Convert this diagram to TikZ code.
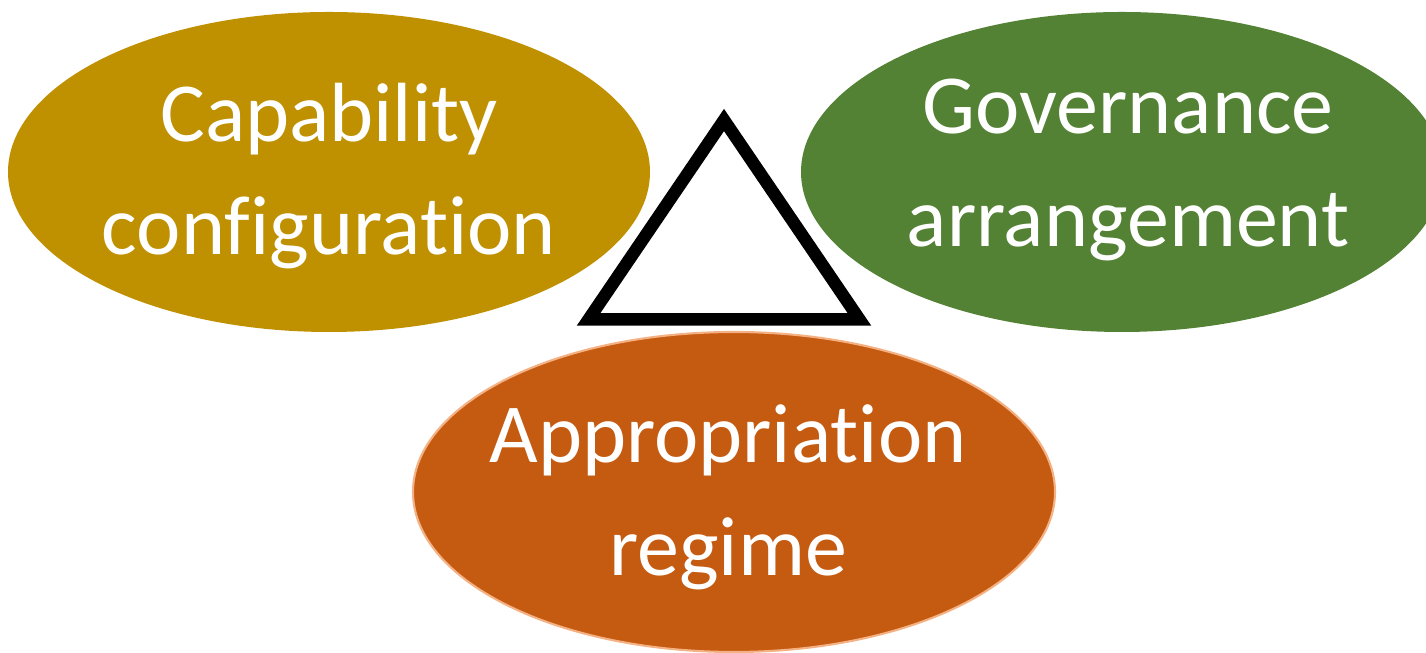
\documentclass[tikz,border=0pt]{standalone}
\usepackage{fontspec}
\setmainfont{Carlito}[Ligatures={NoCommon}]
\usetikzlibrary{shapes.geometric}

\definecolor{capgold}{HTML}{BF9000}
\definecolor{govgreen}{HTML}{548235}
\definecolor{approrange}{HTML}{C55A11}
\definecolor{apprborder}{HTML}{F4B183}

\tikzset{
  blob/.style={ellipse, inner sep=0pt, minimum width=12.84cm, minimum height=6.4cm},
  blobtext/.style={text=white, align=center, font=\fontsize{47.8}{64.3}\selectfont},
}

\begin{document}
\begin{tikzpicture}
\useasboundingbox (0,0) rectangle (28.52,13.06);

\node (cap) at (6.58,9.62) [blob, fill=capgold]{};
\node (cap-t) at (6.58,9.53) [blobtext]{Capability\\configuration};

\node (gov) at (22.44,9.62) [blob, fill=govgreen]{};
\node (gov-t) at (22.56,9.66) [blobtext]{Governance\\arrangement};

\node (app) at (14.68,3.22) [blob, fill=approrange, draw=apprborder, line width=1.2pt]{};
\node (app-t) at (14.56,3.12) [blobtext]{Appropriation\\regime};

% triangle in the middle
\coordinate (top) at (14.48,10.66);
\coordinate (left) at (11.77,6.67);
\coordinate (right) at (17.19,6.67);
\draw [line width=7.1pt, line join=miter, fill=white] (top) -- (left) -- (right) -- cycle;

\end{tikzpicture}
\end{document}
